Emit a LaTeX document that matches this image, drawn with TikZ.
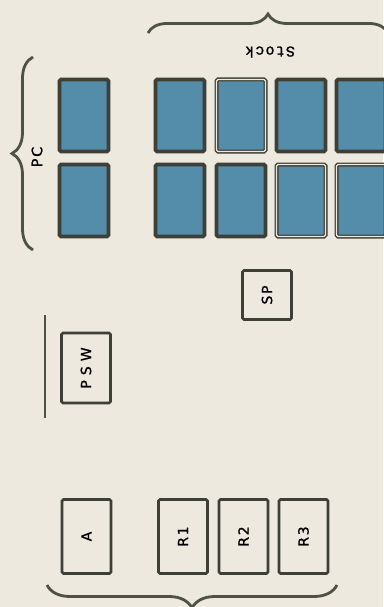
\documentclass[tikz,border=0pt]{standalone}
\usepackage{fontspec}
\setsansfont{DejaVu Sans}[FakeBold=1,LetterSpace=12]
\newfontfamily\stackfont{Liberation Mono}[FakeBold=1.2,LetterSpace=8]
\usetikzlibrary{decorations.pathreplacing}
\definecolor{paper}{RGB}{237,233,222}
\definecolor{ink}{RGB}{62,64,56}
\definecolor{cell}{RGB}{84,141,170}
\definecolor{bracecol}{RGB}{78,82,66}

\tikzset{
  reg/.style={draw=ink,line width=2.8pt,rounded corners=1.5pt,minimum width=49pt,
    minimum height=74pt,inner sep=0pt,font=\sffamily\fontsize{14}{14}\selectfont},
  cellbox/.style={draw=ink,fill=cell,line width=3.6pt,rounded corners=1.5pt,
    minimum width=49pt,minimum height=72pt,inner sep=0pt},
  dblbox/.style={cellbox,line width=1.4pt,double=paper,double distance=1.2pt},
  curly/.style={draw=bracecol,line width=2.8pt,decorate,decoration={brace,amplitude=#1}},
}

\begin{document}
\begin{tikzpicture}[x=1pt,y=-1pt]
  \fill[paper] (0,0) rectangle (383,607);
  \useasboundingbox (0,0) rectangle (383,607);
  % program counter
  \foreach \r/\y in {1/115.5,2/200.5}
    \node[cellbox] (pc\r) at (84,\y) {};
  \node[font=\sffamily\Large] (pclbl) at (37,157) {\rotatebox{90}{PC}};
  \draw[curly=21pt] (33,250) -- (33,57);
  % stack cells
  \foreach \n/\x/\y/\s in {st11/180/115.5/cellbox, st12/241/115.5/dblbox,
      st13/301/115.5/cellbox, st14/361/115.5/cellbox,
      st21/180/200.5/cellbox, st22/241/200.5/cellbox,
      st23/301/200.5/dblbox, st24/361/200.5/dblbox}
    \node[\s] (\n) at (\x,\y) {};
  \node[font=\fontsize{15}{15}\selectfont\stackfont,rotate=180] (stacklbl) at (270,52) {Stock};
  \draw[curly=19pt] (148,33) -- (388,33);
  % registers
  \node[reg,minimum width=49pt,minimum height=49pt] (sp) at (267,295) {\rotatebox{90}{SP}};
  \node[reg,minimum height=70pt] (psw) at (86,368)
    {\rotatebox{90}{\addfontfeature{LetterSpace=36}PSW}};
  \draw[bracecol,line width=2.2pt] (45,315) -- (45,418);
  \foreach \n/\x/\t in {a/86.5/A, r1/183/R1, r2/243.5/R2, r3/303.5/R3}
    \node[reg] (\n) at (\x,536.5) {\rotatebox{90}{\t}};
  \draw[curly=23pt] (337,585) -- (47,585);
\end{tikzpicture}
\end{document}
